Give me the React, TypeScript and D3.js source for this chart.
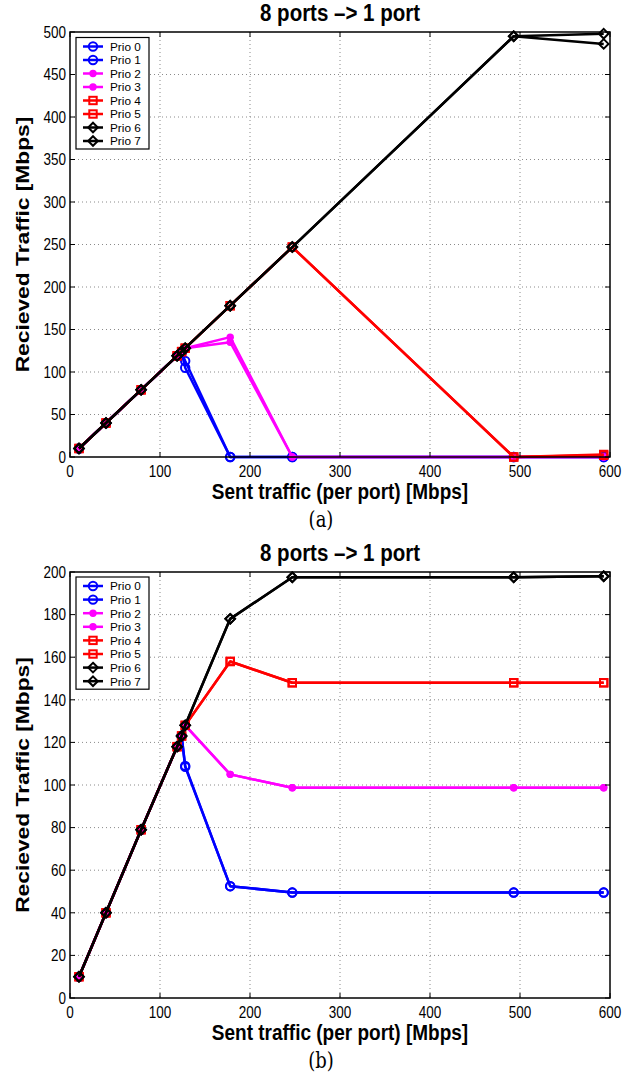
import React, { useRef, useEffect } from 'react';
import * as d3 from 'd3';

// sent traffic per port (x values, same for both panels)
const sentTraffic = [10, 40, 79, 119, 124, 128, 178, 247, 493, 593];

// panel (a)
const prio0A = [10, 40, 79, 119, 123, 113, 0, 0, 0, 0];
const prio1A = [10, 40, 79, 119, 123, 105, 0, 0, 0, 0];
const prio2A = [10, 40, 79, 119, 124, 128, 141, 0, 0, 0];
const prio3A = [10, 40, 79, 119, 124, 128, 135, 0, 0, 0];
const prio4A = [10, 40, 79, 119, 124, 128, 178, 247, 0, 3];
const prio5A = [10, 40, 79, 119, 124, 128, 178, 247, 0, 2];
const prio6A = [10, 40, 79, 119, 124, 128, 178, 247, 495, 486];
const prio7A = [10, 40, 79, 119, 124, 128, 178, 247, 495, 498];

// panel (b)
const prio0B = [10, 40, 79, 118, 123, 109, 52.5, 49.5, 49.5, 49.5];
const prio1B = [10, 40, 79, 118, 123, 108.5, 52.5, 49.5, 49.5, 49.5];
const prio2B = [10, 40, 79, 118, 123, 128, 105, 98.7, 98.7, 98.7];
const prio3B = [10, 40, 79, 118, 123, 128, 105, 98.7, 98.7, 98.7];
const prio4B = [10, 40, 79, 118, 123, 128, 158, 148, 148, 148];
const prio5B = [10, 40, 79, 118, 123, 128, 158, 148, 148, 148];
const prio6B = [10, 40, 79, 118, 123, 128, 178, 197.5, 197.5, 198];
const prio7B = [10, 40, 79, 118, 123, 128, 178, 197.5, 197.5, 198];

const seriesNames = ['Prio 0', 'Prio 1', 'Prio 2', 'Prio 3', 'Prio 4', 'Prio 5', 'Prio 6', 'Prio 7'];
const seriesColors = ['#0000ff', '#0000ff', '#ff00ff', '#ff00ff', '#ff0000', '#ff0000', '#000000', '#000000'];
const seriesMarkers = ['circle', 'circle', 'dot', 'dot', 'square', 'square', 'diamond', 'diamond'];

const xTicks = [0, 100, 200, 300, 400, 500, 600];
const yTicksA = [0, 50, 100, 150, 200, 250, 300, 350, 400, 450, 500];
const yTicksB = [0, 20, 40, 60, 80, 100, 120, 140, 160, 180, 200];

const FONT = "'Liberation Sans', Arial, Helvetica, sans-serif";
// the original figure is stretched vertically a bit, text included
const STRETCH = 1.2;

function drawMarker(g, kind, color, x, y) {
  if (kind === 'circle') {
    g.append('circle').attr('cx', x).attr('cy', y).attr('r', 4.2)
      .attr('fill', 'none').attr('stroke', color).attr('stroke-width', 2);
  } else if (kind === 'dot') {
    g.append('circle').attr('cx', x).attr('cy', y).attr('r', 3.7)
      .attr('fill', color);
  } else if (kind === 'square') {
    g.append('rect').attr('x', x - 3.7).attr('y', y - 3.7).attr('width', 7.4).attr('height', 7.4)
      .attr('fill', 'none').attr('stroke', color).attr('stroke-width', 2);
  } else {
    const r = 4.8;
    g.append('path')
      .attr('d', `M${x},${y - r}L${x + r},${y}L${x},${y + r}L${x - r},${y}Z`)
      .attr('fill', 'none').attr('stroke', color).attr('stroke-width', 2);
  }
}

// horizontal text, stretched vertically around its baseline
function hText(g, x, y, txt, size, anchor = 'middle', bold = false, family = FONT, stretch = STRETCH) {
  g.append('text')
    .attr('transform', `translate(${x},${y}) scale(1,${stretch})`)
    .attr('text-anchor', anchor)
    .style('font-family', family)
    .style('font-size', size + 'px')
    .style('font-weight', bold ? 'bold' : 'normal')
    .text(txt);
}

function drawPanel(svg, opts) {
  const { top, bottom, yMax, yTicks, series, legendTop, legendStep, caption } = opts;
  const left = 70;
  const right = 610;

  const x = d3.scaleLinear().domain([0, 600]).range([left, right]);
  const y = d3.scaleLinear().domain([0, yMax]).range([bottom, top]);

  const g = svg.append('g');

  // grid
  xTicks.slice(1, -1).forEach(t => {
    g.append('line').attr('x1', x(t)).attr('x2', x(t)).attr('y1', top).attr('y2', bottom)
      .attr('stroke', '#8a8a8a').attr('stroke-width', 1).attr('stroke-dasharray', '1,3');
  });
  yTicks.slice(1, -1).forEach(t => {
    g.append('line').attr('x1', left).attr('x2', right).attr('y1', y(t)).attr('y2', y(t))
      .attr('stroke', '#8a8a8a').attr('stroke-width', 1).attr('stroke-dasharray', '1,3');
  });

  // series
  const line = d3.line().x(d => x(d[0])).y(d => y(d[1]));
  series.forEach((vals, i) => {
    const pts = sentTraffic.map((s, j) => [s, vals[j]]);
    g.append('path').datum(pts).attr('d', line)
      .attr('fill', 'none').attr('stroke', seriesColors[i]).attr('stroke-width', 2.5)
      .attr('stroke-linejoin', 'round');
    pts.forEach(p => drawMarker(g, seriesMarkers[i], seriesColors[i], x(p[0]), y(p[1])));
  });

  // box + ticks
  g.append('rect').attr('x', left).attr('y', top).attr('width', right - left).attr('height', bottom - top)
    .attr('fill', 'none').attr('stroke', '#000').attr('stroke-width', 1.5);
  xTicks.forEach(t => {
    g.append('line').attr('x1', x(t)).attr('x2', x(t)).attr('y1', bottom).attr('y2', bottom - 5).attr('stroke', '#000');
    g.append('line').attr('x1', x(t)).attr('x2', x(t)).attr('y1', top).attr('y2', top + 5).attr('stroke', '#000');
    hText(g, x(t), bottom + 20, t, 13.5);
  });
  yTicks.forEach(t => {
    g.append('line').attr('x1', left).attr('x2', left + 5).attr('y1', y(t)).attr('y2', y(t)).attr('stroke', '#000');
    g.append('line').attr('x1', right).attr('x2', right - 5).attr('y1', y(t)).attr('y2', y(t)).attr('stroke', '#000');
    hText(g, left - 4, y(t) + 5.8, t, 13.5, 'end');
  });

  // labels
  hText(g, (left + right) / 2, top - 11, '8 ports \u2013> 1 port', 20.5, 'middle', true);
  hText(g, (left + right) / 2, bottom + 42, 'Sent traffic (per port) [Mbps]', 19, 'middle', true);
  g.append('text')
    .attr('transform', `translate(29, ${(top + bottom) / 2}) rotate(-90) scale(${STRETCH},1)`)
    .attr('text-anchor', 'middle')
    .style('font-family', FONT).style('font-size', '19px').style('font-weight', 'bold')
    .text('Recieved Traffic [Mbps]');
  hText(g, (left + right) / 2 - 19, bottom + 70, caption, 18, 'middle', false, "'DejaVu Serif', serif");

  // legend
  const lg = g.append('g');
  lg.append('rect').attr('x', 76).attr('y', legendTop).attr('width', 73).attr('height', legendStep * 7 + 17)
    .attr('fill', '#fff').attr('stroke', '#000').attr('stroke-width', 1.2);
  seriesNames.forEach((name, i) => {
    const ly = legendTop + 9 + i * legendStep;
    lg.append('line').attr('x1', 83).attr('x2', 103).attr('y1', ly).attr('y2', ly)
      .attr('stroke', seriesColors[i]).attr('stroke-width', 2.5);
    drawMarker(lg, seriesMarkers[i], seriesColors[i], 93, ly);
    hText(lg, 110, ly + 4.4, name, 11.8, 'start', false, FONT, 1);
  });
}

const App = () => {
  const svgRef = useRef();

  useEffect(() => {
    const svg = d3.select(svgRef.current);
    svg.selectAll('*').remove();

    drawPanel(svg, {
      top: 32, bottom: 457, yMax: 500, yTicks: yTicksA,
      series: [prio0A, prio1A, prio2A, prio3A, prio4A, prio5A, prio6A, prio7A],
      legendTop: 37.5, legendStep: 13.5, caption: '(a)'
    });
    drawPanel(svg, {
      top: 572, bottom: 998, yMax: 200, yTicks: yTicksB,
      series: [prio0B, prio1B, prio2B, prio3B, prio4B, prio5B, prio6B, prio7B],
      legendTop: 577, legendStep: 13.6, caption: '(b)'
    });
  }, []);

  return (
    <svg ref={svgRef} width={627} height={1078}
      style={{ position: 'absolute', left: 0, top: 0, background: '#fff' }} />
  );
};

export default App;
